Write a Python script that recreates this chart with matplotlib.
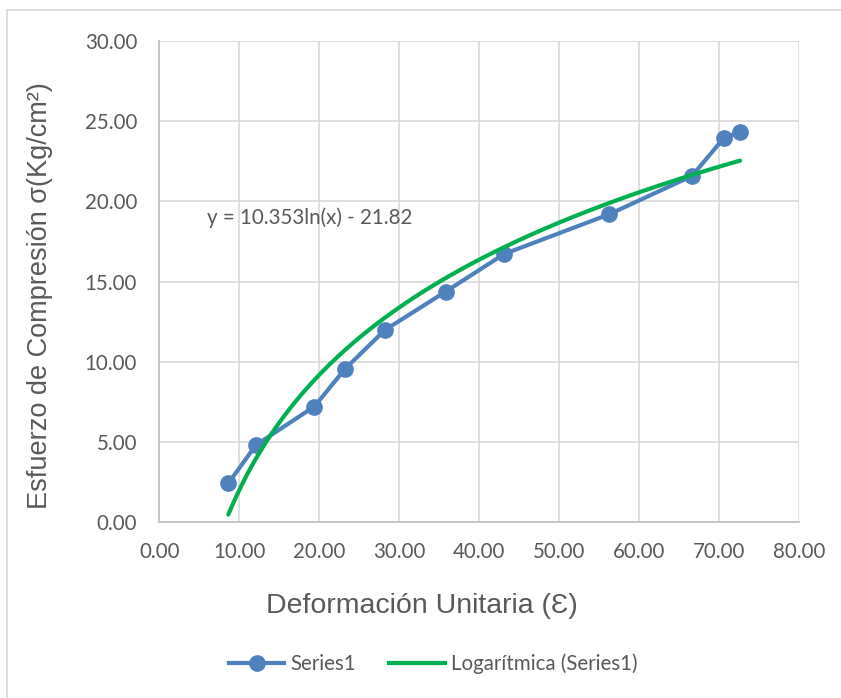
import numpy as np
import matplotlib.pyplot as plt
from matplotlib.patches import Rectangle
from matplotlib.lines import Line2D

# Measured strain / stress pairs
deformacion = [8.62, 12.08, 19.37, 23.25, 28.22, 35.81, 43.14, 56.27, 66.62, 70.58, 72.62]
esfuerzo = [2.43, 4.82, 7.21, 9.58, 11.99, 14.38, 16.73, 19.20, 21.59, 23.94, 24.35]

# Logarithmic fit coefficients: y = a ln(x) + b
coef_a = 10.353
coef_b = -21.82

x_ticks = [0, 10, 20, 30, 40, 50, 60, 70, 80]
y_ticks = [0, 5, 10, 15, 20, 25, 30]

BLUE = "#4F81BD"
GREEN = "#00B050"
TEXT = "#595959"
GRID = "#D9D9D9"

W, H = 841, 698
fig = plt.figure(figsize=(W / 100, H / 100), dpi=100)
fig.patch.set_facecolor("white")

# chart-area frame
fig.add_artist(Rectangle((7 / W, -0.05), 1.1, (H - 10) / H + 0.05,
                         transform=fig.transFigure, fill=False,
                         edgecolor=GRID, linewidth=1.3))

ax_l, ax_r, ax_b, ax_t = 159.4, 799.0, 522.3, 41.0
ax = fig.add_axes([ax_l / W, 1 - ax_b / H, (ax_r - ax_l) / W, (ax_b - ax_t) / H])

ax.set_xlim(0, 80)
ax.set_ylim(0, 30)
ax.set_xticks(x_ticks)
ax.set_yticks(y_ticks)
ax.set_xticklabels([f"{v:.2f}" for v in x_ticks])
ax.set_yticklabels([f"{v:.2f}" for v in y_ticks])
ax.grid(True, color=GRID, linewidth=1.2)
ax.set_axisbelow(True)
for side in ("top", "right"):
    ax.spines[side].set_visible(False)
for side in ("left", "bottom"):
    ax.spines[side].set_color("#BFBFBF")
    ax.spines[side].set_linewidth(1.2)
ax.tick_params(length=0, colors=TEXT, labelsize=14.8)
ax.tick_params(axis="x", pad=14)
ax.tick_params(axis="y", pad=16)
for lab in ax.get_xticklabels() + ax.get_yticklabels():
    lab.set_fontfamily("Lato")

# data series
ax.plot(deformacion, esfuerzo, color=BLUE, linewidth=3.0, marker="o",
        markersize=11, markerfacecolor=BLUE, markeredgecolor=BLUE, zorder=3,
        clip_on=False)

# logarithmic trendline
xt = np.linspace(min(deformacion), max(deformacion), 300)
yt = coef_a * np.log(xt) + coef_b
ax.plot(xt, yt, color=GREEN, linewidth=3.0, zorder=4, solid_capstyle="round")

ax.text(5.95, 18.97, f"y = {coef_a:.3f}ln(x) - {abs(coef_b):.2f}",
        fontsize=14.8, fontfamily="Lato", color=TEXT, va="center", ha="left")

# axis titles
fig.text(422 / W, 1 - 606 / H, "Deformación Unitaria (Ɛ)", fontsize=20.5,
         color=TEXT, fontfamily=["Liberation Sans", "DejaVu Sans"],
         ha="center", va="center")
fig.text(40 / W, 1 - 296 / H, "Esfuerzo de Compresión σ(Kg/cm²)", fontsize=19.5,
         color=TEXT, fontfamily=["Liberation Sans", "DejaVu Sans"],
         ha="center", va="center", rotation=90)

handles = [
    Line2D([], [], color=BLUE, linewidth=3.0, marker="o", markersize=11),
    Line2D([], [], color=GREEN, linewidth=3.0),
]
fig.legend(handles, ["Series1", "Logarítmica (Series1)"],
           loc="center", bbox_to_anchor=(433 / W, 1 - 664 / H), ncol=2,
           frameon=False, handlelength=2.7, handletextpad=0.3, columnspacing=1.6,
           prop={"family": "Lato", "size": 14.8}, labelcolor=TEXT)

fig.savefig("out.png", dpi=100)
